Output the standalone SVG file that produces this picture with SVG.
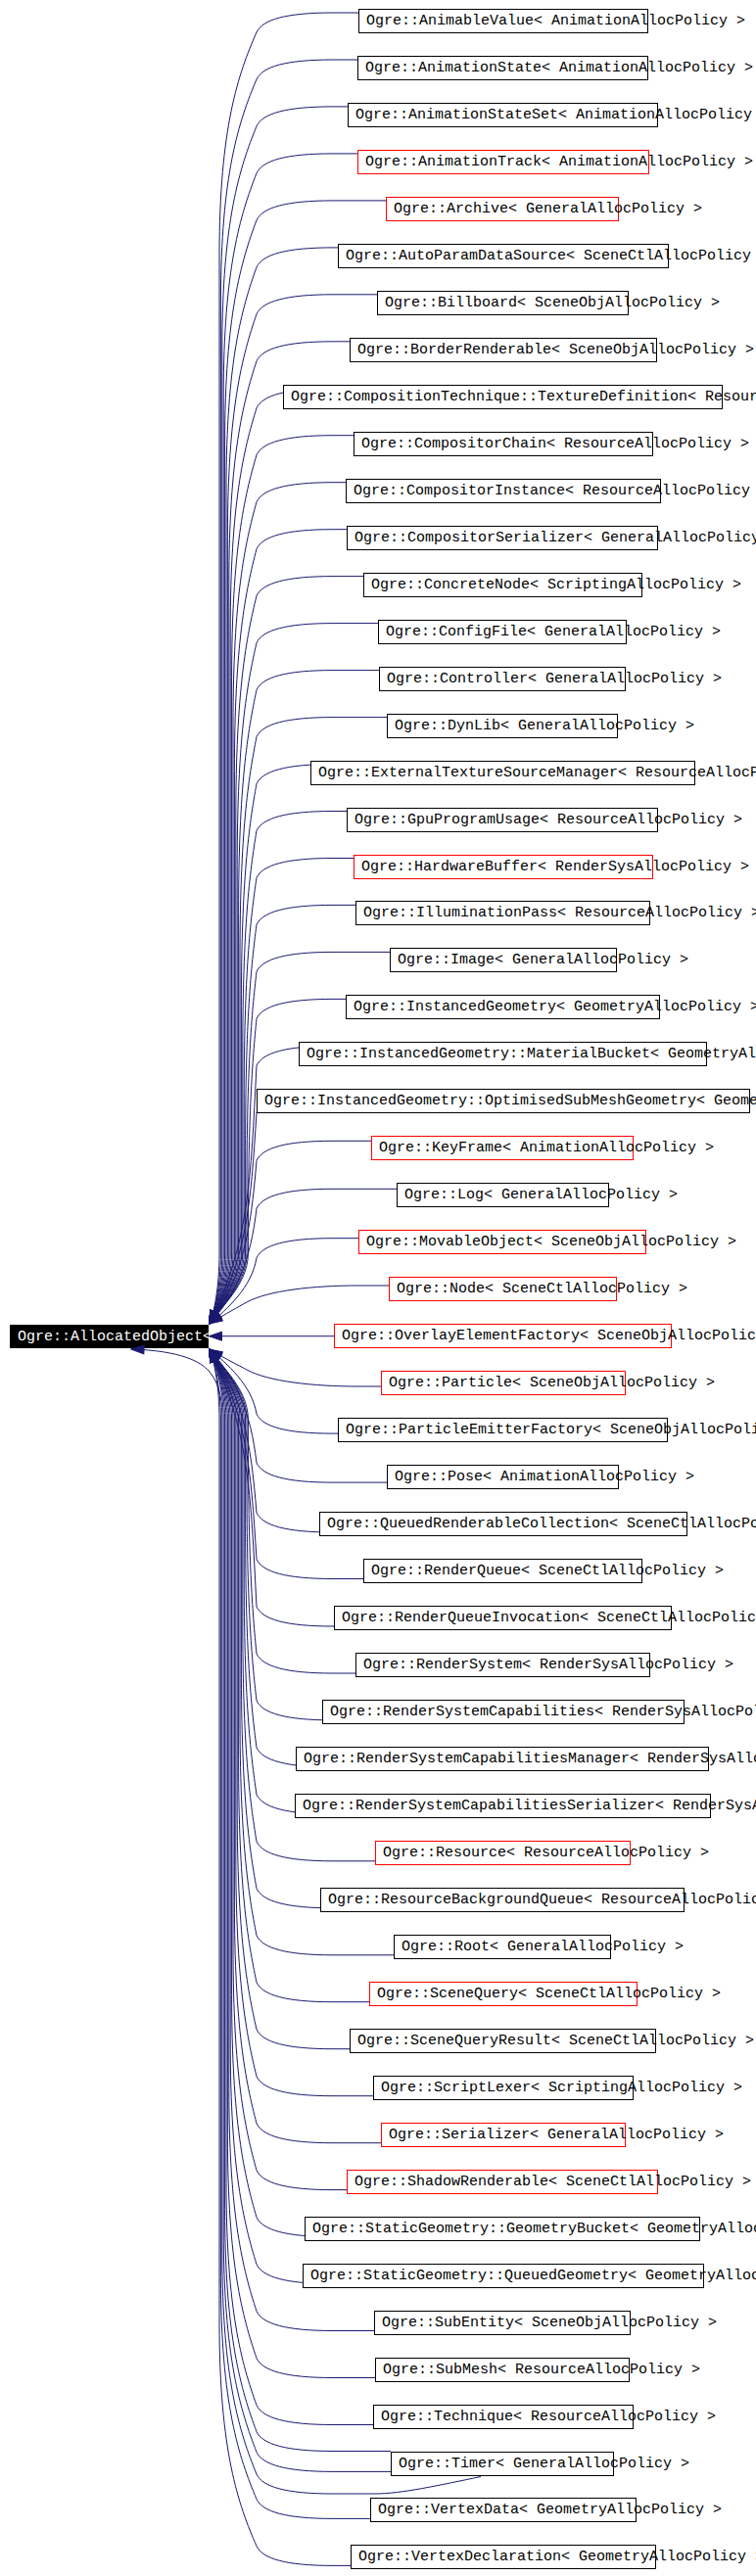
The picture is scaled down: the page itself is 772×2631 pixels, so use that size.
<svg xmlns="http://www.w3.org/2000/svg" width="772" height="2631" viewBox="0 0 772 2631">
<style>
.b{fill:#fff;stroke:#000;stroke-width:1}
.r{fill:#fff;stroke:#f00;stroke-width:1}
.t{font-family:"Liberation Mono","DejaVu Sans Mono",monospace;font-size:15px;fill:#000}
.w{font-family:"Liberation Mono","DejaVu Sans Mono",monospace;font-size:15px;fill:#fff}
#edges path{fill:none;stroke:#191970;stroke-width:1;marker-end:url(#ah)}
</style>
<defs>
<marker id="ah" markerWidth="15" markerHeight="11" refX="14" refY="5.5" orient="auto" markerUnits="userSpaceOnUse" viewBox="0 0 15 11"><path d="M1,1 L14,5.5 L1,10 Z" fill="#191970" stroke="#191970" stroke-width="1"/></marker>
</defs>
<rect x="0" y="0" width="772" height="2631" fill="#fff"/>
<g id="root"><rect x="10" y="1353" width="203" height="24" fill="#000"/><text class="w" x="18" y="1369">Ogre::AllocatedObject&lt;</text></g>
<g id="edges">
<path d="M366,13 H340 c-48,0 -72,7 -78,20 c-18.5,42 -38,97 -38,227 V1280 C224,1315 218.5,1340.9 214,1352"/>
<path d="M365,61 H340 c-48,0 -72,7 -78,20 c-17.8,42 -36.6,97 -36.6,227 V1280 C225.4,1315 218.5,1340.9 214,1352"/>
<path d="M355,108.9 H340 c-48,0 -72,7 -78,20 c-17.1,42 -35.2,97 -35.2,227 V1280 C226.8,1315 218.5,1340.9 214,1352"/>
<path d="M365,156.9 H340 c-48,0 -72,7 -78,20 c-16.4,42 -33.8,97 -33.8,227 V1280 C228.2,1315 218.5,1340.9 214,1352"/>
<path d="M394,204.9 H340 c-48,0 -72,7 -78,20 c-15.7,42 -32.4,97 -32.4,227 V1280 C229.6,1315 218.5,1340.9 214,1352"/>
<path d="M345,252.9 H340 c-48,0 -72,7 -78,20 c-15.1,42 -31,97 -31,227 V1280 C231,1315 218.5,1340.9 214,1352"/>
<path d="M385,300.8 H340 c-48,0 -72,7 -78,20 c-14.4,42 -29.6,97 -29.6,227 V1280 C232.4,1315 218.5,1340.9 214,1352"/>
<path d="M357,348.8 H340 c-48,0 -72,7 -78,20 c-13.7,42 -28.2,97 -28.2,227 V1280 C233.8,1315 218.5,1340.9 214,1352"/>
<path d="M289,396.8 H340 c-48,0 -72,7 -78,20 c-13,42 -26.8,97 -26.8,227 V1280 C235.2,1315 218.5,1340.9 214,1352"/>
<path d="M361,444.7 H340 c-48,0 -72,7 -78,20 c-12.3,42 -25.4,97 -25.4,227 V1280 C236.6,1315 218.5,1340.9 214,1352"/>
<path d="M353,492.7 H340 c-48,0 -72,7 -78,20 c-11.7,42 -24,97 -24,227 V1280 C238,1315 218.5,1340.9 214,1352"/>
<path d="M354,540.7 H340 c-48,0 -72,7 -78,20 c-11,42 -22.6,97 -22.6,227 V1280 C239.4,1315 218.5,1340.9 214,1352"/>
<path d="M371,588.6 H340 c-48,0 -72,7 -78,20 c-10.3,42 -21.2,97 -21.2,227 V1280 C240.8,1315 218.5,1340.9 214,1352"/>
<path d="M386,636.6 H340 c-48,0 -72,7 -78,20 c-9.6,42 -19.8,97 -19.8,227 V1280 C242.2,1315 218.5,1340.9 214,1352"/>
<path d="M387,684.6 H340 c-48,0 -72,7 -78,20 c-8.9,42 -18.4,97 -18.4,227 V1280 C243.6,1315 218.5,1340.9 214,1352"/>
<path d="M395,732.6 H340 c-48,0 -72,7 -78,20 c-8.3,42 -17,97 -17,227 V1280 C245,1315 218.5,1340.9 214,1352"/>
<path d="M317,780.5 H340 c-48,0 -72,7 -78,20 c-7.6,42 -15.6,97 -15.6,227 V1280 C246.4,1315 218.5,1340.9 214,1352"/>
<path d="M354,828.5 H340 c-48,0 -72,7 -78,20 c-6.9,42 -14.2,97 -14.2,227 V1280 C247.8,1315 218.5,1340.9 214,1352"/>
<path d="M361,876.5 H340 c-48,0 -72,7 -78,20 c-6.2,42 -12.8,97 -12.8,227 V1280 C249.2,1315 218.5,1340.9 214,1352"/>
<path d="M363,924.4 H340 c-48,0 -72,7 -78,20 c-5.5,42 -11.4,97 -11.4,227 V1280 C250.6,1315 218.5,1340.9 214,1352"/>
<path d="M398,972.4 H340 c-48,0 -72,7 -78,20 c-4.9,42 -10,97 -10,227 V1280 C252,1315 218.5,1340.9 214,1352"/>
<path d="M353,1020.4 H340 c-48,0 -72,7 -78,20 c-4.2,42 -8.6,97 -8.6,227 V1280 C253.4,1315 218.5,1340.9 214,1352"/>
<path d="M305,1068.3 H340 c-48,0 -72,7 -78,20 C256,1207 254.4,1269 214,1352"/>
<path d="M262,1116.3 H340 c-48,0 -72,7 -78,20 C256,1233 251.7,1286.6 214,1352"/>
<path d="M379,1165.3 H340 c-48,0 -72,7 -78,20 C256,1260.3 247.5,1304.2 214,1352"/>
<path d="M405,1214.3 H340 c-48,0 -72,7 -78,20 C256,1287.3 241.6,1321.4 214,1352"/>
<path d="M366,1264.7 H340 c-48,0 -72,7 -78,20 C257,1315 232.1,1336.8 214,1352"/>
<path d="M397,1313 H366 C320,1313 274,1318 252,1330 C242,1335.5 232,1341 214,1352"/>
<path d="M341,1364.7 H213.5"/>
<path d="M389,1416 H366 C320,1416 274,1411 252,1399 C242,1393.5 232,1389 214,1378"/>
<path d="M345,1464.1 H340 c-48,0 -72,-7 -78,-20 C257,1414.4 232.1,1393.2 214,1378"/>
<path d="M395,1514.1 H340 c-48,0 -72,-7 -78,-20 C256,1441.9 241.2,1408.2 214,1378"/>
<path d="M326,1565 H340 c-48,0 -72,-7 -78,-20 C256,1469.9 247.6,1425.9 214,1378"/>
<path d="M371,1612.5 H340 c-48,0 -72,-7 -78,-20 C256,1496 251.5,1443 214,1378"/>
<path d="M341,1661 H340 c-48,0 -72,-7 -78,-20 C256,1522.7 254.3,1460.7 214,1378"/>
<path d="M363,1709 H340 c-48,0 -72,-7 -78,-20 c-4.2,-42 -8.6,-97 -8.6,-227 V1450 C253.4,1415 218.5,1389.1 214,1378"/>
<path d="M329,1756.9 H340 c-48,0 -72,-7 -78,-20 c-4.9,-42 -10,-97 -10,-227 V1450 C252,1415 218.5,1389.1 214,1378"/>
<path d="M302,1804.9 H340 c-48,0 -72,-7 -78,-20 c-5.5,-42 -11.4,-97 -11.4,-227 V1450 C250.6,1415 218.5,1389.1 214,1378"/>
<path d="M301,1852.9 H340 c-48,0 -72,-7 -78,-20 c-6.2,-42 -12.8,-97 -12.8,-227 V1450 C249.2,1415 218.5,1389.1 214,1378"/>
<path d="M383,1900.8 H340 c-48,0 -72,-7 -78,-20 c-6.9,-42 -14.2,-97 -14.2,-227 V1450 C247.8,1415 218.5,1389.1 214,1378"/>
<path d="M327,1948.8 H340 c-48,0 -72,-7 -78,-20 c-7.6,-42 -15.6,-97 -15.6,-227 V1450 C246.4,1415 218.5,1389.1 214,1378"/>
<path d="M402,1996.8 H340 c-48,0 -72,-7 -78,-20 c-8.3,-42 -17,-97 -17,-227 V1450 C245,1415 218.5,1389.1 214,1378"/>
<path d="M377,2044.7 H340 c-48,0 -72,-7 -78,-20 c-8.9,-42 -18.4,-97 -18.4,-227 V1450 C243.6,1415 218.5,1389.1 214,1378"/>
<path d="M357,2092.7 H340 c-48,0 -72,-7 -78,-20 c-9.6,-42 -19.8,-97 -19.8,-227 V1450 C242.2,1415 218.5,1389.1 214,1378"/>
<path d="M381,2140.7 H340 c-48,0 -72,-7 -78,-20 c-10.3,-42 -21.2,-97 -21.2,-227 V1450 C240.8,1415 218.5,1389.1 214,1378"/>
<path d="M389,2188.7 H340 c-48,0 -72,-7 -78,-20 c-11,-42 -22.6,-97 -22.6,-227 V1450 C239.4,1415 218.5,1389.1 214,1378"/>
<path d="M354,2236.6 H340 c-48,0 -72,-7 -78,-20 c-11.7,-42 -24,-97 -24,-227 V1450 C238,1415 218.5,1389.1 214,1378"/>
<path d="M311,2284.6 H340 c-48,0 -72,-7 -78,-20 c-12.3,-42 -25.4,-97 -25.4,-227 V1450 C236.6,1415 218.5,1389.1 214,1378"/>
<path d="M309,2332.6 H340 c-48,0 -72,-7 -78,-20 c-13,-42 -26.8,-97 -26.8,-227 V1450 C235.2,1415 218.5,1389.1 214,1378"/>
<path d="M382,2380.5 H340 c-48,0 -72,-7 -78,-20 c-13.7,-42 -28.2,-97 -28.2,-227 V1450 C233.8,1415 218.5,1389.1 214,1378"/>
<path d="M383,2428.5 H340 c-48,0 -72,-7 -78,-20 c-14.4,-42 -29.6,-97 -29.6,-227 V1450 C232.4,1415 218.5,1389.1 214,1378"/>
<path d="M381,2476.5 H340 c-48,0 -72,-7 -78,-20 c-15.1,-42 -31,-97 -31,-227 V1450 C231,1415 218.5,1389.1 214,1378"/>
<path d="M399,2503.5 H340 c-48,0 -72,-7 -78,-20 c-15.7,-42 -32.4,-97 -32.4,-227 V1450 C229.6,1415 218.5,1389.1 214,1378"/>
<path d="M399,2524.4 H340 c-48,0 -72,-7 -78,-20 c-16.4,-42 -33.8,-97 -33.8,-227 V1450 C228.2,1415 218.5,1389.1 214,1378"/>
<path d="M491,2529.5 C450,2538 410,2547 383,2547 H340 c-48,0 -72,-7 -78,-20 c-17.1,-42 -35.2,-97 -35.2,-227 V1445 C226.8,1425 222,1410 213,1400 C205,1391 185,1379.5 134,1378"/>
<path d="M378,2572.4 H340 c-48,0 -72,-7 -78,-20 c-17.8,-42 -36.6,-97 -36.6,-227 V1450 C225.4,1415 218.5,1389.1 214,1378"/>
<path d="M358,2620.4 H340 c-48,0 -72,-7 -78,-20 c-18.5,-42 -38,-97 -38,-227 V1450 C224,1415 218.5,1389.1 214,1378"/>
</g>
<g id="n0"><rect class="b" x="366.5" y="9.5" width="295" height="24"/><text class="t" x="374" y="25">Ogre::AnimableValue&lt; AnimationAllocPolicy &gt;</text></g>
<g id="n1"><rect class="b" x="365.5" y="57.5" width="296" height="24"/><text class="t" x="373" y="73">Ogre::AnimationState&lt; AnimationAllocPolicy &gt;</text></g>
<g id="n2"><rect class="b" x="355.5" y="105.5" width="316" height="24"/><text class="t" x="363" y="121">Ogre::AnimationStateSet&lt; AnimationAllocPolicy &gt;</text></g>
<g id="n3"><rect class="r" x="365.5" y="153.5" width="297" height="24"/><text class="t" x="373" y="169">Ogre::AnimationTrack&lt; AnimationAllocPolicy &gt;</text></g>
<g id="n4"><rect class="r" x="394.5" y="201.5" width="237" height="24"/><text class="t" x="402" y="217">Ogre::Archive&lt; GeneralAllocPolicy &gt;</text></g>
<g id="n5"><rect class="b" x="345.5" y="249.5" width="337" height="24"/><text class="t" x="353" y="265">Ogre::AutoParamDataSource&lt; SceneCtlAllocPolicy &gt;</text></g>
<g id="n6"><rect class="b" x="385.5" y="297.5" width="256" height="24"/><text class="t" x="393" y="313">Ogre::Billboard&lt; SceneObjAllocPolicy &gt;</text></g>
<g id="n7"><rect class="b" x="357.5" y="345.5" width="313" height="24"/><text class="t" x="365" y="361">Ogre::BorderRenderable&lt; SceneObjAllocPolicy &gt;</text></g>
<g id="n8"><rect class="b" x="289.5" y="393.5" width="448" height="24"/><text class="t" x="297" y="409">Ogre::CompositionTechnique::TextureDefinition&lt; ResourceAllocPolicy &gt;</text></g>
<g id="n9"><rect class="b" x="361.5" y="441.5" width="305" height="24"/><text class="t" x="369" y="457">Ogre::CompositorChain&lt; ResourceAllocPolicy &gt;</text></g>
<g id="n10"><rect class="b" x="353.5" y="489.5" width="321" height="24"/><text class="t" x="361" y="505">Ogre::CompositorInstance&lt; ResourceAllocPolicy &gt;</text></g>
<g id="n11"><rect class="b" x="354.5" y="537.5" width="317" height="24"/><text class="t" x="362" y="553">Ogre::CompositorSerializer&lt; GeneralAllocPolicy &gt;</text></g>
<g id="n12"><rect class="b" x="371.5" y="585.5" width="284" height="24"/><text class="t" x="379" y="601">Ogre::ConcreteNode&lt; ScriptingAllocPolicy &gt;</text></g>
<g id="n13"><rect class="b" x="386.5" y="633.5" width="253" height="24"/><text class="t" x="394" y="649">Ogre::ConfigFile&lt; GeneralAllocPolicy &gt;</text></g>
<g id="n14"><rect class="b" x="387.5" y="681.5" width="251" height="24"/><text class="t" x="395" y="697">Ogre::Controller&lt; GeneralAllocPolicy &gt;</text></g>
<g id="n15"><rect class="b" x="395.5" y="729.5" width="235" height="24"/><text class="t" x="403" y="745">Ogre::DynLib&lt; GeneralAllocPolicy &gt;</text></g>
<g id="n16"><rect class="b" x="317.5" y="777.5" width="392" height="24"/><text class="t" x="325" y="793">Ogre::ExternalTextureSourceManager&lt; ResourceAllocPolicy &gt;</text></g>
<g id="n17"><rect class="b" x="354.5" y="825.5" width="317" height="24"/><text class="t" x="362" y="841">Ogre::GpuProgramUsage&lt; ResourceAllocPolicy &gt;</text></g>
<g id="n18"><rect class="r" x="361.5" y="873.5" width="305" height="24"/><text class="t" x="369" y="889">Ogre::HardwareBuffer&lt; RenderSysAllocPolicy &gt;</text></g>
<g id="n19"><rect class="b" x="363.5" y="920.5" width="300" height="24"/><text class="t" x="371" y="936">Ogre::IlluminationPass&lt; ResourceAllocPolicy &gt;</text></g>
<g id="n20"><rect class="b" x="398.5" y="968.5" width="231" height="24"/><text class="t" x="406" y="984">Ogre::Image&lt; GeneralAllocPolicy &gt;</text></g>
<g id="n21"><rect class="b" x="353.5" y="1016.5" width="320" height="24"/><text class="t" x="361" y="1032">Ogre::InstancedGeometry&lt; GeometryAllocPolicy &gt;</text></g>
<g id="n22"><rect class="b" x="305.5" y="1064.5" width="416" height="24"/><text class="t" x="313" y="1080">Ogre::InstancedGeometry::MaterialBucket&lt; GeometryAllocPolicy &gt;</text></g>
<g id="n23"><rect class="b" x="262.5" y="1112.5" width="503" height="24"/><text class="t" x="270" y="1128">Ogre::InstancedGeometry::OptimisedSubMeshGeometry&lt; GeometryAllocPolicy &gt;</text></g>
<g id="n24"><rect class="r" x="379.5" y="1160.5" width="267" height="24"/><text class="t" x="387" y="1176">Ogre::KeyFrame&lt; AnimationAllocPolicy &gt;</text></g>
<g id="n25"><rect class="b" x="405.5" y="1208.5" width="216" height="24"/><text class="t" x="413" y="1224">Ogre::Log&lt; GeneralAllocPolicy &gt;</text></g>
<g id="n26"><rect class="r" x="366.5" y="1256.5" width="293" height="24"/><text class="t" x="374" y="1272">Ogre::MovableObject&lt; SceneObjAllocPolicy &gt;</text></g>
<g id="n27"><rect class="r" x="397.5" y="1304.5" width="232" height="24"/><text class="t" x="405" y="1320">Ogre::Node&lt; SceneCtlAllocPolicy &gt;</text></g>
<g id="n28"><rect class="r" x="341.5" y="1352.5" width="344" height="24"/><text class="t" x="349" y="1368">Ogre::OverlayElementFactory&lt; SceneObjAllocPolicy &gt;</text></g>
<g id="n29"><rect class="r" x="389.5" y="1400.5" width="249" height="24"/><text class="t" x="397" y="1416">Ogre::Particle&lt; SceneObjAllocPolicy &gt;</text></g>
<g id="n30"><rect class="b" x="345.5" y="1448.5" width="336" height="24"/><text class="t" x="353" y="1464">Ogre::ParticleEmitterFactory&lt; SceneObjAllocPolicy &gt;</text></g>
<g id="n31"><rect class="b" x="395.5" y="1496.5" width="236" height="24"/><text class="t" x="403" y="1512">Ogre::Pose&lt; AnimationAllocPolicy &gt;</text></g>
<g id="n32"><rect class="b" x="326.5" y="1544.5" width="375" height="24"/><text class="t" x="334" y="1560">Ogre::QueuedRenderableCollection&lt; SceneCtlAllocPolicy &gt;</text></g>
<g id="n33"><rect class="b" x="371.5" y="1592.5" width="284" height="24"/><text class="t" x="379" y="1608">Ogre::RenderQueue&lt; SceneCtlAllocPolicy &gt;</text></g>
<g id="n34"><rect class="b" x="341.5" y="1640.5" width="344" height="24"/><text class="t" x="349" y="1656">Ogre::RenderQueueInvocation&lt; SceneCtlAllocPolicy &gt;</text></g>
<g id="n35"><rect class="b" x="363.5" y="1688.5" width="300" height="24"/><text class="t" x="371" y="1704">Ogre::RenderSystem&lt; RenderSysAllocPolicy &gt;</text></g>
<g id="n36"><rect class="b" x="329.5" y="1736.5" width="369" height="24"/><text class="t" x="337" y="1752">Ogre::RenderSystemCapabilities&lt; RenderSysAllocPolicy &gt;</text></g>
<g id="n37"><rect class="b" x="302.5" y="1784.5" width="421" height="24"/><text class="t" x="310" y="1800">Ogre::RenderSystemCapabilitiesManager&lt; RenderSysAllocPolicy &gt;</text></g>
<g id="n38"><rect class="b" x="301.5" y="1832.5" width="424" height="24"/><text class="t" x="309" y="1848">Ogre::RenderSystemCapabilitiesSerializer&lt; RenderSysAllocPolicy &gt;</text></g>
<g id="n39"><rect class="r" x="383.5" y="1880.5" width="260" height="24"/><text class="t" x="391" y="1896">Ogre::Resource&lt; ResourceAllocPolicy &gt;</text></g>
<g id="n40"><rect class="b" x="327.5" y="1928.5" width="371" height="24"/><text class="t" x="335" y="1944">Ogre::ResourceBackgroundQueue&lt; ResourceAllocPolicy &gt;</text></g>
<g id="n41"><rect class="b" x="402.5" y="1976.5" width="221" height="24"/><text class="t" x="410" y="1992">Ogre::Root&lt; GeneralAllocPolicy &gt;</text></g>
<g id="n42"><rect class="r" x="377.5" y="2024.5" width="273" height="24"/><text class="t" x="385" y="2040">Ogre::SceneQuery&lt; SceneCtlAllocPolicy &gt;</text></g>
<g id="n43"><rect class="b" x="357.5" y="2072.5" width="312" height="24"/><text class="t" x="365" y="2088">Ogre::SceneQueryResult&lt; SceneCtlAllocPolicy &gt;</text></g>
<g id="n44"><rect class="b" x="381.5" y="2120.5" width="265" height="24"/><text class="t" x="389" y="2136">Ogre::ScriptLexer&lt; ScriptingAllocPolicy &gt;</text></g>
<g id="n45"><rect class="r" x="389.5" y="2168.5" width="249" height="24"/><text class="t" x="397" y="2184">Ogre::Serializer&lt; GeneralAllocPolicy &gt;</text></g>
<g id="n46"><rect class="r" x="354.5" y="2216.5" width="317" height="24"/><text class="t" x="362" y="2232">Ogre::ShadowRenderable&lt; SceneCtlAllocPolicy &gt;</text></g>
<g id="n47"><rect class="b" x="311.5" y="2264.5" width="403" height="24"/><text class="t" x="319" y="2280">Ogre::StaticGeometry::GeometryBucket&lt; GeometryAllocPolicy &gt;</text></g>
<g id="n48"><rect class="b" x="309.5" y="2312.5" width="409" height="24"/><text class="t" x="317" y="2328">Ogre::StaticGeometry::QueuedGeometry&lt; GeometryAllocPolicy &gt;</text></g>
<g id="n49"><rect class="b" x="382.5" y="2360.5" width="261" height="24"/><text class="t" x="390" y="2376">Ogre::SubEntity&lt; SceneObjAllocPolicy &gt;</text></g>
<g id="n50"><rect class="b" x="383.5" y="2408.5" width="259" height="24"/><text class="t" x="391" y="2424">Ogre::SubMesh&lt; ResourceAllocPolicy &gt;</text></g>
<g id="n51"><rect class="b" x="381.5" y="2456.5" width="265" height="24"/><text class="t" x="389" y="2472">Ogre::Technique&lt; ResourceAllocPolicy &gt;</text></g>
<g id="n52"><rect class="b" x="399.5" y="2504.5" width="227" height="24"/><text class="t" x="407" y="2520">Ogre::Timer&lt; GeneralAllocPolicy &gt;</text></g>
<g id="n53"><rect class="b" x="378.5" y="2551.5" width="271" height="24"/><text class="t" x="386" y="2567">Ogre::VertexData&lt; GeometryAllocPolicy &gt;</text></g>
<g id="n54"><rect class="b" x="358.5" y="2599.5" width="311" height="24"/><text class="t" x="366" y="2615">Ogre::VertexDeclaration&lt; GeometryAllocPolicy &gt;</text></g>
</svg>
